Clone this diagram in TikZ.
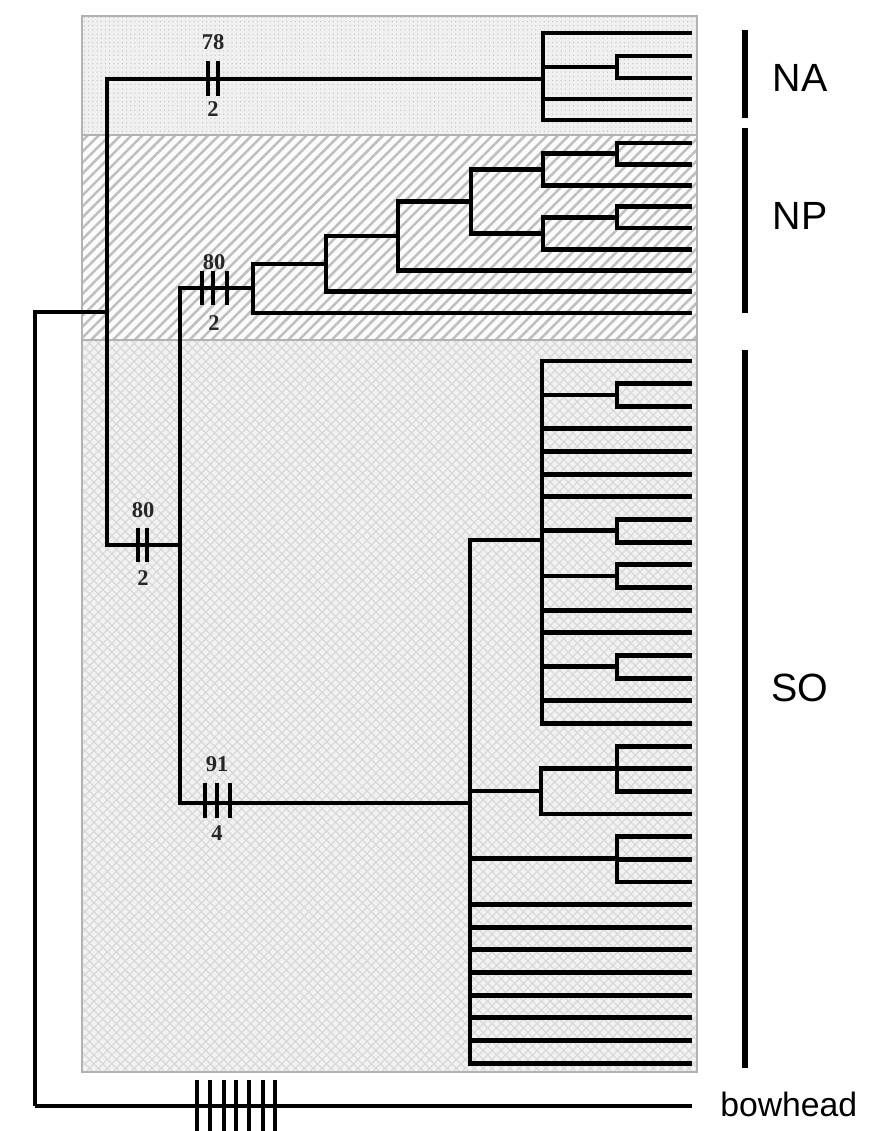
\documentclass[tikz,border=0pt]{standalone}
\usepackage{fontspec}
\setmainfont{Liberation Serif}
\setsansfont{Liberation Sans}
\usetikzlibrary{patterns.meta}

\begin{document}
\begin{tikzpicture}[x=0.025cm, y=-0.025cm,
            branch/.style={line width=3.5pt},
            tick/.style={line width=3pt},
            support/.style={font=\rmfamily\bfseries\fontsize{16}{16}\selectfont, text=black!85, inner sep=0pt},
            region/.style={draw=gray!60, line width=1.8pt},
            pop/.style={font=\sffamily\fontsize{28}{28}\selectfont, inner sep=0pt},
            popbar/.style={line width=3.6pt}
            ]
            \useasboundingbox (0,0) rectangle (884,1131);

            % regions
            \fill[gray!12] (82,16) rectangle (697,135);
            \fill[pattern={Dots[distance=3pt, radius=0.5pt]}, pattern color=gray!45] (82,16) rectangle (697,135);
            \fill[gray!3] (82,135) rectangle (697,340);
            \fill[pattern={Lines[angle=45, distance=5.5pt, line width=1.8pt]}, pattern color=gray!50] (82,135) rectangle (697,340);
            \fill[gray!10] (82,340) rectangle (697,1072);
            \fill[pattern={Hatch[angle=45, distance=4.5pt, line width=0.9pt]}, pattern color=gray!30] (82,340) rectangle (697,1072);
            \draw[region] (82,16) rectangle (697,1072);
            \draw[region] (82,135) -- (697,135);
            \draw[region] (82,340) -- (697,340);

            % backbone
            \coordinate (root) at (35,1106);
            \coordinate (bowhead) at (692,1106);
            \coordinate (top) at (107,312);
            \coordinate (north) at (180,545);
            \coordinate (na) at (543,79);
            \coordinate (np0) at (253,288);
            \coordinate (so1) at (470,803);

            % leaves
            \foreach \y [count=\i] in {33,56,78,99,120}
                \coordinate (a\i) at (692,\y);
            \foreach \i in {1,...,9}
                \coordinate (p\i) at (692,{143+(\i-1)*21.25});
            \foreach \i in {1,...,32}
                \coordinate (s\i) at (692,{361+(\i-1)*22.65});

            % NA
            \coordinate (na1) at (617,67);
            % NP
            \coordinate (np1) at (326,264);
            \coordinate (np2) at (398,236);
            \coordinate (np3) at (471,201.5);
            \coordinate (np4) at (543,169.6);
            \coordinate (np5) at (617,153.6);
            \coordinate (np6) at (543,233.3);
            \coordinate (np7) at (617,217.4);
            % SO
            \coordinate (so2) at (542,540);
            \coordinate (ss1) at (617,395);
            \coordinate (ss2) at (617,530.7);
            \coordinate (ss3) at (617,576);
            \coordinate (ss4) at (617,666.5);
            \coordinate (so3) at (541,791);
            \coordinate (so4) at (617,768.3);
            \coordinate (so5) at (617,858.8);

            \draw[branch] (root) |- (top);
            \draw[branch] (root) -- (bowhead);
            \draw[branch] (top) |- (na);
            \draw[branch] (top) |- (north);
            \draw[branch] (north) |- (np0);
            \draw[branch] (north) |- (so1);

            \foreach \p/\c in {na/a1, na/na1, na/a4, na/a5, na1/a2, na1/a3}
                \draw[branch] (\p) |- (\c);
            \foreach \p/\c in {np0/np1, np0/p9, np1/np2, np1/p8, np2/np3, np2/p7,
                               np3/np4, np3/np6, np4/np5, np4/p3, np5/p1, np5/p2,
                               np6/np7, np6/p6, np7/p4, np7/p5}
                \draw[branch] (\p) |- (\c);
            \foreach \c in {s1, ss1, s4, s5, s6, s7, ss2, ss3, s12, s13, ss4, s16, s17}
                \draw[branch] (so2) |- (\c);
            \foreach \p/\c in {ss1/s2, ss1/s3, ss2/s8, ss2/s9, ss3/s10, ss3/s11, ss4/s14, ss4/s15}
                \draw[branch] (\p) |- (\c);
            \foreach \c in {so2, so3, so5, s25, s26, s27, s28, s29, s30, s31, s32}
                \draw[branch] (so1) |- (\c);
            \foreach \p/\c in {so3/so4, so3/s21, so4/s18, so4/s19, so4/s20, so5/s22, so5/s23, so5/s24}
                \draw[branch] (\p) |- (\c);

            % changes on branches
            \foreach \x in {208,218}
                \draw[tick] (\x,61) -- (\x,96);
            \node[support] (na-bs) at (213,42) {78};
            \node[support] (na-n) at (213,109) {2};

            \foreach \x in {202,213,227}
                \draw[tick] (\x,271) -- (\x,305);
            \node[support] (np-bs) at (214,262) {80};
            \node[support] (np-n) at (214,323) {2};

            \foreach \x in {138,147}
                \draw[tick] (\x,528) -- (\x,562);
            \node[support] (n-bs) at (143,510) {80};
            \node[support] (n-n) at (143,578) {2};

            \foreach \x in {205,217,230}
                \draw[tick] (\x,783) -- (\x,818);
            \node[support] (so-bs) at (217,764) {91};
            \node[support] (so-n) at (217,833) {4};

            \foreach \x in {197,210,224,236,249,263,275}
                \draw[tick] (\x,1080) -- (\x,1131);

            % populations
            \draw[popbar] (745,30) -- (745,118);
            \draw[popbar] (745,128) -- (745,313);
            \draw[popbar] (745,350) -- (745,1068);
            \node[pop] (NA) at (800,78) {NA};
            \node[pop] (NP) at (800,216) {NP};
            \node[pop] (SO) at (800,688) {SO};
            \node[pop, font=\sffamily\fontsize{24}{24}\selectfont, anchor=west] (bowlabel) at (720,1104) {bowhead};

            \end{tikzpicture}
\end{document}
